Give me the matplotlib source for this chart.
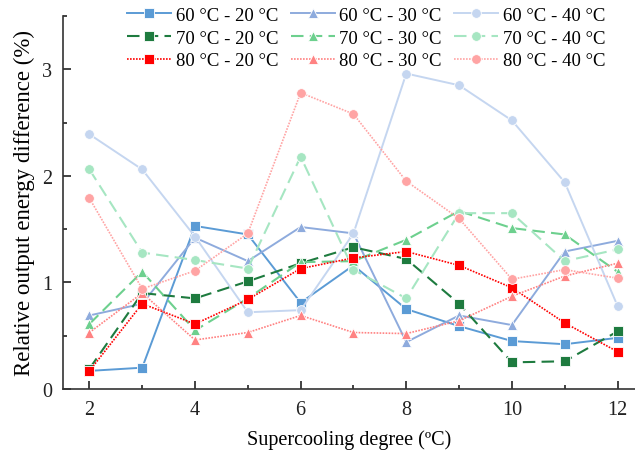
import matplotlib
matplotlib.use("Agg")
import matplotlib.pyplot as plt
from matplotlib.ticker import MultipleLocator

plt.rcParams['font.family'] = ['Liberation Serif', 'DejaVu Serif']

x = [2, 3, 4, 5, 6, 7, 8, 9, 10, 11, 12]

s60_20 = [0.17, 0.20, 1.53, 1.45, 0.81, 1.16, 0.75, 0.59, 0.45, 0.42, 0.48]
s60_30 = [0.69, 0.80, 1.42, 1.20, 1.52, 1.46, 0.44, 0.69, 0.60, 1.29, 1.39]
s60_40 = [2.39, 2.06, 1.43, 0.72, 0.74, 1.46, 2.96, 2.85, 2.52, 1.94, 0.78]
s70_20 = [0.19, 0.90, 0.85, 1.01, 1.18, 1.33, 1.22, 0.80, 0.25, 0.26, 0.54]
s70_30 = [0.61, 1.10, 0.55, 0.85, 1.19, 1.20, 1.40, 1.67, 1.51, 1.45, 1.10]
s70_40 = [2.06, 1.28, 1.21, 1.13, 2.18, 1.12, 0.85, 1.65, 1.65, 1.20, 1.31]
s80_20 = [0.17, 0.80, 0.61, 0.84, 1.13, 1.23, 1.29, 1.16, 0.95, 0.62, 0.35]
s80_30 = [0.53, 0.90, 0.46, 0.53, 0.69, 0.53, 0.52, 0.64, 0.87, 1.06, 1.18]
s80_40 = [1.79, 0.94, 1.11, 1.46, 2.78, 2.58, 1.95, 1.60, 1.03, 1.12, 1.04]

labels = ["60 °C - 20 °C", "60 °C - 30 °C", "60 °C - 40 °C",
          "70 °C - 20 °C", "70 °C - 30 °C", "70 °C - 40 °C",
          "80 °C - 20 °C", "80 °C - 30 °C", "80 °C - 40 °C"]
series = [s60_20, s60_30, s60_40, s70_20, s70_30, s70_40, s80_20, s80_30, s80_40]
colors = ['#5B9BD5', '#8EABDD', '#C5D6F0',
          '#1E7B3F', '#6DD08E', '#A6E6C2',
          '#FF0000', '#FF8282', '#FFA4A4']
markers = ['s', '^', 'o'] * 3
msizes = [6.5, 7.5, 7] * 3
styles = ['-'] * 3 + [(0, (6, 3))] * 3 + [(0, (1, 0.8))] * 3
widths = [1.4] * 3 + [1.5] * 3 + [1.2] * 3

fig = plt.figure(figsize=(6.35, 4.56), dpi=100)
ax = fig.add_axes([63/635, 66/456, 573/635, 373/456])

handles = []
for ys, lab, c, m, ms, ls, lw in zip(series, labels, colors, markers, msizes, styles, widths):
    h, = ax.plot(x, ys, color=c, marker=m, linestyle=ls, linewidth=lw,
                 markersize=ms, markeredgecolor='white', markeredgewidth=0.6,
                 label=lab)
    handles.append(h)

ax.set_xlim(1.5, 12.35)
ax.set_ylim(0, 3.5)
ax.xaxis.set_major_locator(MultipleLocator(2))
ax.xaxis.set_minor_locator(MultipleLocator(1))
ax.yaxis.set_major_locator(MultipleLocator(1))
ax.yaxis.set_minor_locator(MultipleLocator(0.5))
ax.tick_params(which='both', direction='in', labelsize=14.5, width=1.2, colors='#222222')
ax.tick_params(which='major', length=6)
ax.tick_params(which='minor', length=3)
ax.tick_params(axis='y', which='major', pad=8)
ax.tick_params(axis='x', which='major', pad=8)
for sp in ['top', 'right']:
    ax.spines[sp].set_visible(False)
for sp in ['left', 'bottom']:
    ax.spines[sp].set_linewidth(1.2)
    ax.spines[sp].set_color('#333333')

ax.set_xlabel("Supercooling degree (ºC)", fontsize=14.5, labelpad=7)
ax.set_ylabel("Relative output energy difference (%)", fontsize=16.5, labelpad=5)

order = [0, 3, 6, 1, 4, 7, 2, 5, 8]
ax.legend([handles[i] for i in order], [labels[i] for i in order],
          ncol=3, frameon=False, fontsize=13.5, loc='upper left',
          bbox_to_anchor=(0.099, 1.045), handlelength=2.35, columnspacing=0.65,
          labelspacing=0.3, handletextpad=0.25, borderaxespad=0)

fig.savefig("out.png", dpi=100)
